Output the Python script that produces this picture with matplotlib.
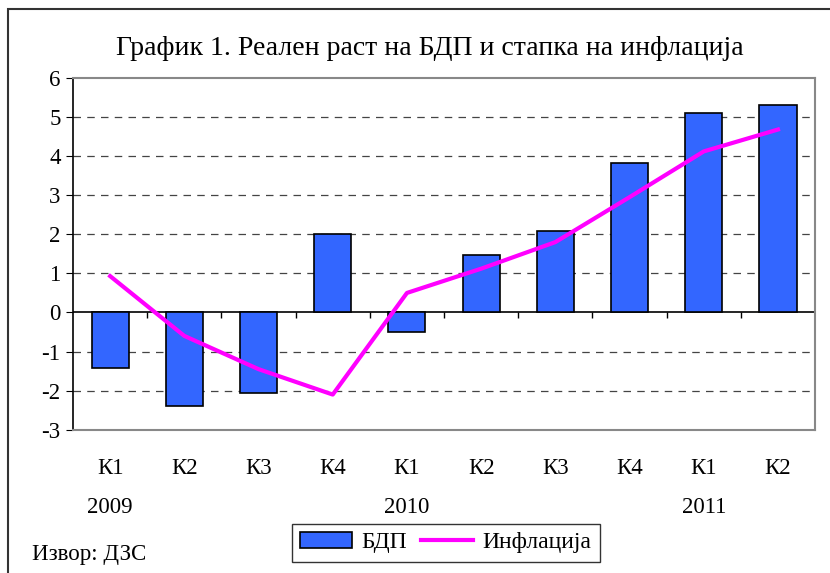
import matplotlib
matplotlib.use("Agg")
import matplotlib.pyplot as plt
from matplotlib.patches import Rectangle, Patch
from matplotlib.lines import Line2D
import numpy as np

plt.rcParams["font.family"] = ["Liberation Serif", "DejaVu Serif"]
plt.rcParams["axes.unicode_minus"] = False

# Data
quarters = ["К1", "К2", "К3", "К4", "К1", "К2", "К3", "К4", "К1", "К2"]
years = {0: "2009", 4: "2010", 8: "2011"}
gdp = [-1.43, -2.4, -2.07, 2.0, -0.51, 1.47, 2.08, 3.82, 5.1, 5.3]
inflation = [0.93, -0.6, -1.45, -2.1, 0.5, 1.12, 1.8, 2.95, 4.12, 4.68]

x = np.arange(len(quarters))

fig = plt.figure(figsize=(8.3, 5.73), dpi=100)
ax = fig.add_axes([0.088, 0.25, 0.894, 0.614])

# Outer frame of the chart
fig.patches.append(Rectangle((0.010, -0.1), 1.2, 1.1 - 9 / 573, transform=fig.transFigure,
                             fill=False, edgecolor="#333333", linewidth=1.5))

ax.bar(x, gdp, width=0.5, color="#3366FF", edgecolor="black", linewidth=1.2, zorder=3)
ax.plot(x, inflation, color="#FF00FF", linewidth=3, zorder=4)

ax.set_xlim(-0.5, len(x) - 0.5)
ax.set_ylim(-3, 6)
ax.set_yticks(range(-3, 7))
ax.tick_params(axis="y", labelsize=16.5, length=5, direction="out", color="black", pad=4)

# Gridlines
for v in range(-2, 6):
    if v != 0:
        ax.axhline(v, color="#444444", linestyle=(0, (6, 5)), linewidth=0.9, zorder=1)

# Zero line with category ticks
ax.axhline(0, color="black", linewidth=1.2, zorder=2)
ax.vlines(np.arange(0.5, len(x) - 0.5, 1), -0.13, 0, color="black", linewidth=1, zorder=2)

for side in ["top", "right", "bottom"]:
    ax.spines[side].set_color("#888888")
    ax.spines[side].set_linewidth(1.5)
ax.spines["left"].set_color("black")
ax.spines["left"].set_linewidth(1.2)

ax.set_xticks(x)
ax.set_xticklabels(quarters, fontsize=16.5)
ax.tick_params(axis="x", length=0, pad=20)
for i, yr in years.items():
    ax.text(i, -0.19, yr, transform=ax.get_xaxis_transform(), ha="center", va="top", fontsize=16.5)

fig.suptitle("График 1. Реален раст на БДП и стапка на инфлација", x=0.518, y=0.937, fontsize=20)

handles = [Patch(facecolor="#3366FF", edgecolor="black", linewidth=1.2),
           Line2D([0], [0], color="#FF00FF", linewidth=3)]
leg = fig.legend(handles, ["БДП", "Инфлација"], loc="center", bbox_to_anchor=(0.537, 0.053),
                 ncol=2, fontsize=17, frameon=True, fancybox=False, edgecolor="black",
                 handlelength=2.2, handletextpad=0.4, columnspacing=0.6, borderpad=0.35)
leg.get_frame().set_linewidth(1.0)

fig.text(0.038, 0.032, "Извор: ДЗС", fontsize=16.5, ha="left", va="center")

fig.savefig("out.png", dpi=100)
